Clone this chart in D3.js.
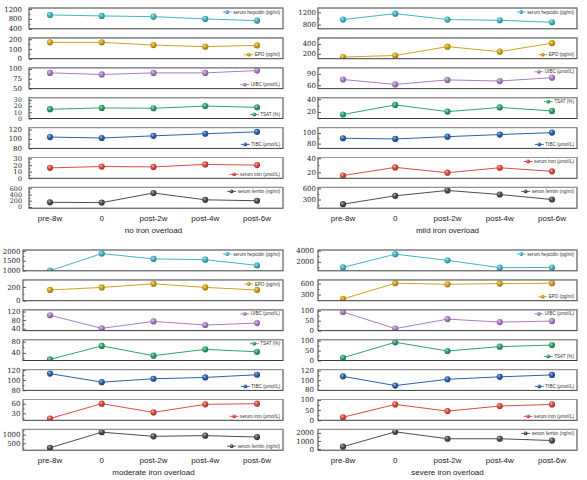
<!DOCTYPE html>
<html>
<head>
<meta charset="utf-8">
<script src="https://cdn.jsdelivr.net/npm/d3@7"></script>
<style>
  body { margin: 0; background: #fff; }
  svg { display: block; }
</style>
</head>
<body>
<svg id="chart" width="587" height="480"></svg>
<script>
// time points and group names
const timepoints = ["pre-8w", "0", "post-2w", "post-4w", "post-6w"];
const groups = ["no iron overload", "mild iron overload", "moderate iron overload", "severe iron overload"];
const indicators = ["serum hepcidin (pg/ml)", "EPO (pg/ml)", "UIBC (μmol/L)", "TSAT (%)",
                    "TIBC (μmol/L)", "serum iron (μmol/L)", "serum ferritin (ng/ml)"];
const colors = ["#41b6c4", "#d4a116", "#ad7cc4", "#2fa36b", "#2a62ad", "#dd4b3f", "#4d4d4d"];

// values, one row per indicator
const noOverload = [
  [960, 920, 890, 800, 730],
  [168, 168, 140, 124, 137],
  [90, 86, 90, 90, 96],
  [15, 17, 16.5, 20, 18],
  [104, 102, 106.5, 111, 115],
  [15.8, 17.8, 17.3, 21, 20],
  [150, 140, 450, 230, 200]
];
const mildOverload = [
  [963, 1158, 963, 940, 875],
  [135, 165, 344, 243, 413],
  [75, 62, 74, 71, 80],
  [16, 31, 20.5, 27, 21.6],
  [90, 88.7, 93, 97, 100.6],
  [15.5, 27, 19.5, 26.5, 21.5],
  [175, 400, 543, 435, 300]
];
const moderateOverload = [
  [985, 1870, 1593, 1555, 1260],
  [157, 194, 247, 194, 157],
  [102.6, 41.4, 74, 57, 66],
  [16.8, 65, 30, 52.7, 44],
  [113, 96, 102.7, 105.4, 110.7],
  [14, 60, 33, 58, 60],
  [240, 1140, 900, 940, 860]
];
const severeOverload = [
  [1000, 3380, 2270, 960, 980],
  [180, 610, 580, 600, 610],
  [94, 10, 58, 43, 48],
  [14, 92, 48, 70, 78],
  [108, 89, 102, 107, 111],
  [15, 78, 45, 70, 78],
  [300, 2130, 1280, 1280, 1060]
];
const groupValues = [noOverload, mildOverload, moderateOverload, severeOverload];

// y ranges and tick labels per group
const noDomains = [[400, 1240], [0, 214], [50, 103], [0, 33.5], [80, 124], [0, 31.5], [-40, 630]];
const mildDomains = [[660, 1343], [101, 520], [51, 106], [9.7, 42.3], [71, 110], [11.6, 41], [67, 625]];
const moderateDomains = [[980, 2055], [0, 304], [31, 128], [13, 87], [79.5, 121], [8.4, 73], [100, 1300]];
const severeDomains = [[390, 4130], [132, 700], [0, 105], [0, 105], [79, 122], [0, 102], [-130, 2430]];
const groupDomains = [noDomains, mildDomains, moderateDomains, severeDomains];

const noTicks = [[400, 800, 1200], [0, 100, 200], [50, 75, 100], [0, 10, 20, 30], [80, 100, 120], [0, 10, 20, 30], [0, 200, 400, 600]];
const mildTicks = [[800, 1200], [200, 400], [60, 90], [20, 40], [80, 100], [20, 40], [300, 600]];
const moderateTicks = [[1000, 1500, 2000], [0, 200], [40, 80, 120], [40, 80], [80, 100, 120], [30, 60], [500, 1000]];
const severeTicks = [[2000, 4000], [300, 600], [0, 50, 100], [0, 50, 100], [80, 100, 120], [0, 50, 100], [0, 1000, 2000]];
const groupTicks = [noTicks, mildTicks, moderateTicks, severeTicks];

// legend placement inside each box ("t" = top right, "b" = bottom right)
const legendPos = [
  ["t", "b", "b", "b", "b", "b", "t"],
  ["t", "b", "t", "t", "b", "t", "t"],
  ["t", "t", "t", "t", "b", "b", "b"],
  ["t", "b", "t", "b", "b", "b", "t"]
];

// panel layout
const panels = [
  { x0: 29, x1: 283, px0: 50, px1: 257, top: 8, labelGap: 7 },
  { x0: 318, x1: 577, px0: 343, px1: 552, top: 8, labelGap: 2 },
  { x0: 23, x1: 283, px0: 50, px1: 257, top: 250, labelGap: 2.5 },
  { x0: 318, x1: 577, px0: 343, px1: 552, top: 250, labelGap: 4 }
];
const rowPitch = 29.9;
const rowHeight = 20.8;

const svg = d3.select("#chart");
const defs = svg.append("defs");

// ball-like markers
colors.forEach((c, i) => {
  const g = defs.append("radialGradient")
    .attr("id", "ball" + i)
    .attr("cx", "38%").attr("cy", "35%").attr("r", "65%");
  g.append("stop").attr("offset", "0%").attr("stop-color", d3.interpolateRgb(c, "#fff")(0.6));
  g.append("stop").attr("offset", "45%").attr("stop-color", c);
  g.append("stop").attr("offset", "100%").attr("stop-color", d3.color(c).darker(0.9));
});

panels.forEach((p, gi) => {
  const x = d3.scalePoint().domain(timepoints).range([p.px0, p.px1]);
  const panel = svg.append("g");

  indicators.forEach((name, ri) => {
    const y0 = p.top + ri * rowPitch;
    const y1 = y0 + rowHeight;
    const dom = groupDomains[gi][ri];
    const y = d3.scaleLinear().domain(dom).range([y1, y0]);
    const vals = groupValues[gi][ri];
    const color = colors[ri];
    const row = panel.append("g");

    const clipId = "clip" + gi + "_" + ri;
    defs.append("clipPath").attr("id", clipId)
      .append("rect")
      .attr("x", p.x0).attr("y", y0)
      .attr("width", p.x1 - p.x0).attr("height", rowHeight);

    // y axis: tick labels + inner ticks
    const ticks = groupTicks[gi][ri];
    const step = ticks.length > 1 ? ticks[1] - ticks[0] : ticks[0];
    const minor = d3.range(Math.ceil(dom[0] / (step / 2)) * (step / 2), dom[1], step / 2)
      .filter(v => !ticks.includes(v));

    const axis = d3.axisRight(y).tickValues(ticks).tickSize(3).tickFormat("");
    row.append("g")
      .attr("transform", `translate(${p.x0},0)`)
      .call(axis)
      .call(g => g.select(".domain").remove())
      .call(g => g.selectAll("line").attr("stroke", "#333").attr("stroke-width", 0.8));

    row.append("g")
      .attr("transform", `translate(${p.x0},0)`)
      .call(d3.axisRight(y).tickValues(minor).tickSize(1.6).tickFormat(""))
      .call(g => g.select(".domain").remove())
      .call(g => g.selectAll("line").attr("stroke", "#333").attr("stroke-width", 0.7));

    // tighter stacks get a slightly smaller font
    const gap = Math.abs(y(ticks[0]) - y(ticks[1]));
    const fs = Math.min(7, gap + 0.2);
    row.selectAll("text.ylab")
      .data(ticks)
      .join("text")
      .attr("class", "ylab")
      .attr("x", p.x0 - p.labelGap)
      .attr("y", d => y(d))
      .attr("dy", "0.36em")
      .attr("text-anchor", "end")
      .attr("font-family", "DejaVu Serif, serif")
      .attr("font-size", fs)
      .attr("fill", "#222")
      .text(d => d);

    // line and markers
    const plot = row.append("g").attr("clip-path", `url(#${clipId})`);
    const line = d3.line()
      .x((d, i) => x(timepoints[i]))
      .y(d => y(d));
    plot.append("path")
      .datum(vals)
      .attr("d", line)
      .attr("fill", "none")
      .attr("stroke", color)
      .attr("stroke-width", 1);
    plot.selectAll("circle")
      .data(vals)
      .join("circle")
      .attr("cx", (d, i) => x(timepoints[i]))
      .attr("cy", d => y(d))
      .attr("r", 3.1)
      .attr("fill", `url(#ball${ri})`);

    // frame: light top edge, dark other edges
    row.append("rect")
      .attr("x", p.x0).attr("y", y0)
      .attr("width", p.x1 - p.x0).attr("height", rowHeight)
      .attr("fill", "none")
      .attr("stroke", "#3c3c3c")
      .attr("stroke-width", 1);
    row.append("line")
      .attr("x1", p.x0).attr("x2", p.x1)
      .attr("y1", y0).attr("y2", y0)
      .attr("stroke", "#9a9a9a")
      .attr("stroke-width", 1);

    // legend
    const ly = legendPos[gi][ri] === "t" ? y0 + 4 : y1 - 4;
    const lt = row.append("text")
      .attr("x", p.x1 - 3)
      .attr("y", ly)
      .attr("dy", "0.35em")
      .attr("text-anchor", "end")
      .attr("font-family", "Liberation Sans, Arial, sans-serif")
      .attr("font-size", 4.6)
      .attr("fill", "#333")
      .text(name);
    const tw = lt.node().getComputedTextLength();
    const sx = p.x1 - 3 - tw - 1.5;
    row.append("line")
      .attr("x1", sx - 9).attr("x2", sx)
      .attr("y1", ly).attr("y2", ly)
      .attr("stroke", color).attr("stroke-width", 0.9);
    row.append("circle")
      .attr("cx", sx - 4.5).attr("cy", ly)
      .attr("r", 1.9)
      .attr("fill", `url(#ball${ri})`);
  });

  // x tick labels and group title
  const lastBottom = p.top + 6 * rowPitch + rowHeight;
  panel.selectAll("text.xlab")
    .data(timepoints)
    .join("text")
    .attr("class", "xlab")
    .attr("x", d => x(d))
    .attr("y", lastBottom + 12.5)
    .attr("text-anchor", "middle")
    .attr("font-family", "Liberation Sans, Arial, sans-serif")
    .attr("font-size", 8)
    .attr("fill", "#222")
    .text(d => d);

  panel.append("text")
    .attr("x", (p.px0 + p.px1) / 2)
    .attr("y", lastBottom + 25)
    .attr("text-anchor", "middle")
    .attr("font-family", "Liberation Sans, Arial, sans-serif")
    .attr("font-size", 8)
    .attr("fill", "#222")
    .text(groups[gi]);
});
</script>
</body>
</html>
